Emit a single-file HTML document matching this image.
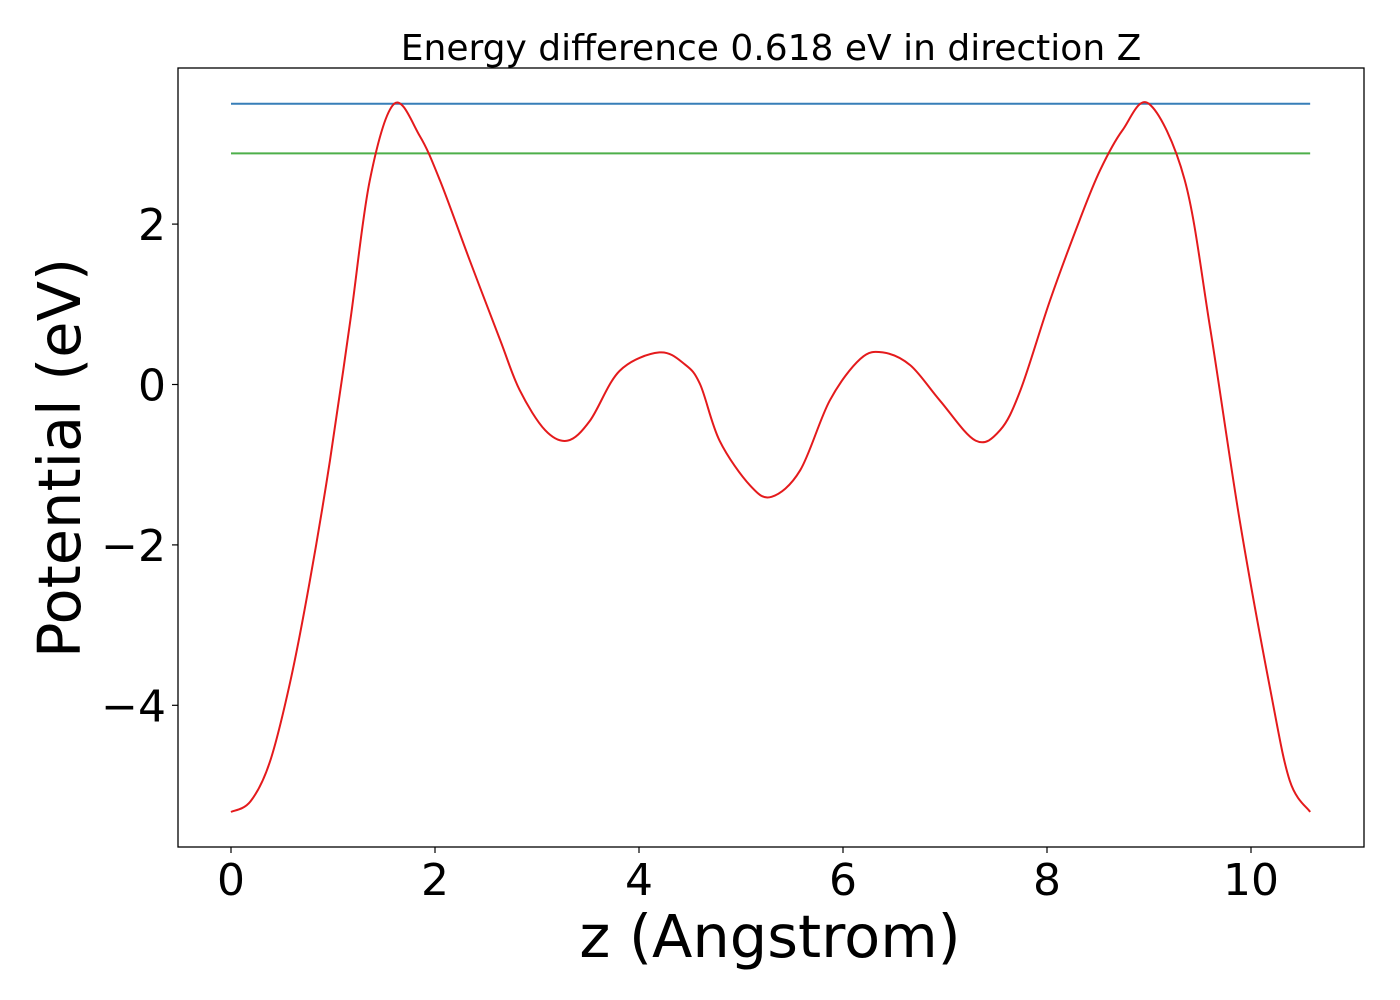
<!DOCTYPE html>
<html><head><meta charset="utf-8"><style>
html,body{margin:0;padding:0;background:#fff;width:1400px;height:1000px;overflow:hidden}
svg text{font-family:"DejaVu Sans","Liberation Sans",sans-serif;fill:#000}
</style></head><body>
<svg id="chart" width="1400" height="1000" xmlns="http://www.w3.org/2000/svg"></svg>
<script>
const zValues=[0,0.19,0.38,0.58,0.77,0.97,1.17,1.36,1.60,1.85,2.05,2.34,2.64,2.83,3.08,3.30,3.52,3.81,4.20,4.45,4.60,4.79,5.09,5.30,5.58,5.87,6.17,6.39,6.66,6.95,7.30,7.54,7.74,8.03,8.32,8.52,8.74,9.00,9.35,9.60,9.89,10.19,10.38,10.58];
const potential=[-5.33,-5.2,-4.71,-3.71,-2.47,-0.95,0.80,2.54,3.50,3.10,2.54,1.55,0.55,-0.07,-0.57,-0.70,-0.45,0.17,0.40,0.25,0.0,-0.70,-1.26,-1.40,-1.07,-0.20,0.32,0.40,0.24,-0.20,-0.70,-0.57,-0.07,1.05,2.05,2.67,3.17,3.50,2.55,0.70,-1.70,-3.81,-4.94,-5.33];
const maxLevel=[3.50];
const refLevel=[2.882];
const xTicks=[0,2,4,6,8,10];
const yTicks=[-4,-2,0,2];
const titleText="Energy difference 0.618 eV in direction Z";

const L=178,R=1364,T=68,B=847;
const x=v=>231+v*102;
const y=v=>384.5-v*80.2;
const svg=document.getElementById('chart');
const NS='http://www.w3.org/2000/svg';
function mk(tag,attrs,parent){const e=document.createElementNS(NS,tag);for(const k in attrs)e.setAttribute(k,attrs[k]);(parent||svg).appendChild(e);return e;}

const title=mk('text',{x:771,y:60,'text-anchor':'middle','font-size':'36'});


title.textContent=titleText;

const zMin=zValues[0],zMax=zValues[zValues.length-1];
const blue=mk('line',{x1:x(zMin),x2:x(zMax),y1:y(maxLevel[0]),y2:y(maxLevel[0]),stroke:'#377eb8','stroke-width':2});


const green=mk('line',{x1:x(zMin),x2:x(zMax),y1:y(refLevel[0]),y2:y(refLevel[0]),stroke:'#4daf4a','stroke-width':2});



const P=zValues.map((z,i)=>[x(z),y(potential[i])]);
let d='M'+P[0][0]+','+P[0][1];
for(let i=0;i<P.length-1;i++){
  const p0=P[Math.max(0,i-1)],p1=P[i],p2=P[i+1],p3=P[Math.min(P.length-1,i+2)];
  const c1=[p1[0]+(p2[0]-p0[0])/6,p1[1]+(p2[1]-p0[1])/6];
  const c2=[p2[0]-(p3[0]-p1[0])/6,p2[1]-(p3[1]-p1[1])/6];
  d+=` C${c1[0]},${c1[1]} ${c2[0]},${c2[1]} ${p2[0]},${p2[1]}`;
}
const curve=mk('path',{d:d,fill:'none',stroke:'#e41a1c','stroke-width':2});



const frame=mk('rect',{x:L,y:T,width:R-L,height:B-T,fill:'none',stroke:'#000','stroke-width':1.3});



xTicks.forEach(v=>{
  const t=mk('line',{x1:x(v),x2:x(v),y1:B,y2:B+6,stroke:'#000','stroke-width':1.2});
  
  
  const l=mk('text',{x:x(v),y:895,'text-anchor':'middle','font-size':'44'});
  
  
  l.textContent=String(v);
});
yTicks.forEach(v=>{
  const t=mk('line',{x1:L-6,x2:L,y1:y(v),y2:y(v),stroke:'#000','stroke-width':1.2});
  
  
  const l=mk('text',{x:166,y:y(v)+16,'text-anchor':'end','font-size':'44'});
  
  
  l.textContent=v<0?'\u2212'+Math.abs(v):String(v);
});

const xl=mk('text',{x:770,y:957,'text-anchor':'middle','font-size':'59'});


xl.textContent='z (Angstrom)';
const yl=mk('text',{x:0,y:0,'text-anchor':'middle','font-size':'59',transform:'translate(80,458) rotate(-90)'});


yl.textContent='Potential (eV)';
</script>
</body></html>
